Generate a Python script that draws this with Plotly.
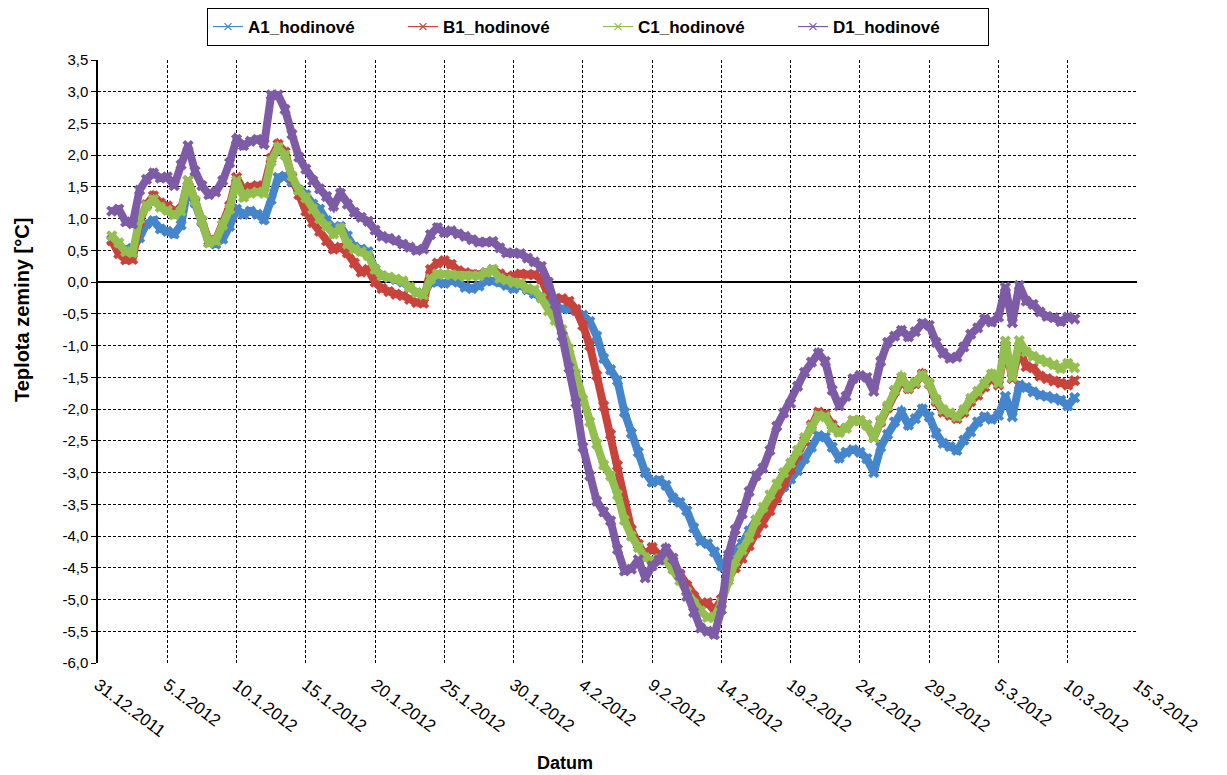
import numpy as np
import pandas as pd
import plotly.graph_objects as go

# Half-day sampling from 1.1.2012 00:00 to 10.3.2012 12:00
time = pd.date_range("2012-01-01 00:00", periods=140, freq="12h")

a1 = [
    0.67, 0.56, 0.52, 0.53, 0.70, 0.92, 0.97, 0.84, 0.80, 0.76,
    0.90, 1.50, 1.25, 0.95, 0.62, 0.60, 0.68, 0.88, 1.15, 1.07,
    1.12, 1.07, 0.99, 1.30, 1.65, 1.67, 1.58, 1.45, 1.38, 1.23,
    1.15, 0.97, 0.85, 0.88, 0.73, 0.55, 0.52, 0.48, 0.20, 0.10,
    0.07, 0.04, 0.00, -0.08, -0.17, -0.20, 0.00, 0.00, -0.02, 0.02,
    0.00, -0.08, -0.10, -0.06, 0.02, 0.02, 0.00, -0.05, -0.10, -0.05,
    -0.12, -0.18, -0.22, -0.30, -0.38, -0.42, -0.42, -0.45, -0.52, -0.62,
    -0.85, -1.20, -1.38, -1.55, -2.05, -2.38, -2.68, -3.00, -3.15, -3.12,
    -3.20, -3.40, -3.47, -3.60, -3.87, -4.08, -4.12, -4.25, -4.47, -4.35,
    -4.20, -4.12, -3.92, -3.75, -3.65, -3.50, -3.35, -3.22, -3.10, -2.97,
    -2.78, -2.60, -2.42, -2.44, -2.60, -2.77, -2.68, -2.64, -2.68, -2.78,
    -3.00, -2.60, -2.40, -2.20, -2.05, -2.25, -2.15, -2.00, -2.12, -2.38,
    -2.54, -2.59, -2.65, -2.49, -2.36, -2.20, -2.12, -2.16, -2.10, -1.80,
    -2.12, -1.62, -1.66, -1.73, -1.78, -1.80, -1.83, -1.86, -1.95, -1.82,
]

b1 = [
    0.65, 0.45, 0.35, 0.36, 0.95, 1.22, 1.36, 1.25, 1.20, 1.12,
    1.15, 1.60, 1.28, 0.97, 0.65, 0.66, 0.90, 1.20, 1.65, 1.45,
    1.50, 1.52, 1.50, 1.95, 2.17, 2.05, 1.65, 1.38, 1.12, 0.94,
    0.80, 0.65, 0.52, 0.55, 0.46, 0.30, 0.16, 0.20, 0.00, -0.10,
    -0.15, -0.19, -0.21, -0.27, -0.32, -0.33, 0.20, 0.30, 0.34, 0.28,
    0.18, 0.15, 0.12, 0.12, 0.15, 0.20, 0.13, 0.08, 0.10, 0.13,
    0.12, 0.12, 0.05, -0.20, -0.26, -0.26, -0.30, -0.43, -0.68, -1.00,
    -1.47, -1.95, -2.40, -2.89, -3.50, -3.90, -4.13, -4.30, -4.18, -4.30,
    -4.30, -4.40, -4.60, -4.78, -4.95, -5.08, -5.05, -5.18, -5.00, -4.65,
    -4.50, -4.35, -4.15, -3.95, -3.80, -3.60, -3.40, -3.15, -2.95, -2.72,
    -2.50, -2.25, -2.05, -2.08, -2.25, -2.35, -2.30, -2.18, -2.18, -2.25,
    -2.45, -2.20, -1.98, -1.72, -1.55, -1.68, -1.60, -1.45, -1.60, -1.88,
    -2.05, -2.10, -2.15, -2.05, -1.88, -1.78, -1.65, -1.50, -1.62, -1.00,
    -1.52, -1.05, -1.33, -1.35, -1.48, -1.52, -1.56, -1.59, -1.62, -1.55,
]

c1 = [
    0.73, 0.62, 0.48, 0.46, 1.00, 1.20, 1.30, 1.18, 1.13, 1.06,
    1.12, 1.60, 1.28, 0.97, 0.62, 0.65, 0.90, 1.15, 1.60, 1.34,
    1.40, 1.42, 1.40, 1.90, 2.12, 2.00, 1.67, 1.45, 1.33, 1.15,
    1.00, 0.88, 0.76, 0.85, 0.60, 0.52, 0.48, 0.42, 0.20, 0.10,
    0.08, 0.05, 0.02, -0.08, -0.17, -0.20, 0.05, 0.13, 0.12, 0.12,
    0.10, 0.09, 0.10, 0.10, 0.15, 0.20, 0.06, 0.03, -0.01, -0.02,
    -0.10, -0.12, -0.25, -0.45, -0.60, -0.75, -1.05, -1.45, -1.85, -2.20,
    -2.55, -2.88, -3.05, -3.35, -3.75, -4.00, -4.18, -4.34, -4.39, -4.36,
    -4.38, -4.52, -4.70, -4.88, -5.06, -5.18, -5.28, -5.28, -5.05, -4.70,
    -4.40, -4.22, -4.02, -3.75, -3.55, -3.35, -3.18, -3.00, -2.85, -2.65,
    -2.45, -2.28, -2.10, -2.12, -2.30, -2.37, -2.30, -2.18, -2.18, -2.25,
    -2.45, -2.18, -1.95, -1.70, -1.50, -1.66, -1.58, -1.47, -1.59, -1.85,
    -2.01, -2.06, -2.12, -2.01, -1.83, -1.72, -1.60, -1.45, -1.59, -0.93,
    -1.50, -0.92, -1.10, -1.17, -1.22, -1.26, -1.30, -1.36, -1.28, -1.35,
]

d1 = [
    1.12, 1.15, 0.95, 0.92, 1.45, 1.62, 1.72, 1.64, 1.66, 1.52,
    1.85, 2.15, 1.75, 1.52, 1.38, 1.42, 1.60, 1.88, 2.25, 2.15,
    2.22, 2.25, 2.18, 2.95, 2.95, 2.72, 2.33, 1.97, 1.78, 1.60,
    1.47, 1.35, 1.20, 1.40, 1.23, 1.10, 1.02, 0.96, 0.82, 0.72,
    0.69, 0.66, 0.60, 0.55, 0.50, 0.52, 0.75, 0.86, 0.78, 0.81,
    0.76, 0.72, 0.67, 0.63, 0.63, 0.64, 0.54, 0.46, 0.46, 0.45,
    0.38, 0.32, 0.25, 0.00, -0.35, -0.85, -1.35, -1.90, -2.60, -3.05,
    -3.45, -3.62, -3.76, -4.21, -4.55, -4.52, -4.37, -4.66, -4.47, -4.38,
    -4.20, -4.35, -4.62, -4.95, -5.20, -5.45, -5.50, -5.55, -5.16, -4.30,
    -3.90, -3.65, -3.30, -3.05, -2.93, -2.65, -2.27, -2.06, -1.91, -1.64,
    -1.42, -1.26, -1.12, -1.25, -1.70, -1.95, -1.80, -1.52, -1.47, -1.50,
    -1.72, -1.25, -0.95, -0.85, -0.76, -0.86, -0.78, -0.65, -0.68, -0.95,
    -1.12, -1.20, -1.18, -1.02, -0.82, -0.72, -0.58, -0.63, -0.55, -0.08,
    -0.64, -0.05, -0.30, -0.35, -0.47, -0.54, -0.56, -0.62, -0.55, -0.58,
]

series_names = ["A1_hodinové", "B1_hodinové", "C1_hodinové", "D1_hodinové"]
series_values = [a1, b1, c1, d1]
colors = ["#4585cc", "#c8433c", "#93bf4f", "#7d5ba6"]

x_tick_dates = [
    "2011-12-31", "2012-01-05", "2012-01-10", "2012-01-15", "2012-01-20",
    "2012-01-25", "2012-01-30", "2012-02-04", "2012-02-09", "2012-02-14",
    "2012-02-19", "2012-02-24", "2012-02-29", "2012-03-05", "2012-03-10",
    "2012-03-15",
]
x_tick_labels = [
    "31.12.2011", "5.1.2012", "10.1.2012", "15.1.2012", "20.1.2012",
    "25.1.2012", "30.1.2012", "4.2.2012", "9.2.2012", "14.2.2012",
    "19.2.2012", "24.2.2012", "29.2.2012", "5.3.2012", "10.3.2012",
    "15.3.2012",
]
y_ticks = np.round(np.arange(-6.0, 3.51, 0.5), 1)
y_tick_labels = [f"{v:.1f}".replace(".", ",") for v in y_ticks]

FONT = "Liberation Sans, Arial, sans-serif"
W, H = 1227, 775
ML, MR, MT, MB = 98, 90, 60, 112
PW, PH = W - ML - MR, H - MT - MB

fig = go.Figure()

for name, vals, col in zip(series_names, series_values, colors):
    fig.add_trace(go.Scatter(
        x=time, y=vals, mode="lines+markers", name=name, showlegend=False,
        line=dict(color=col, width=8),
        marker=dict(symbol="x", size=10, color=col, line=dict(width=0)),
    ))

# legend entries: thin line with a cross, as drawn in the key
for name, col in zip(series_names, colors):
    fig.add_trace(go.Scatter(
        x=[None], y=[None], mode="lines+markers", name=name,
        line=dict(color=col, width=1.2),
        marker=dict(symbol="x-thin", size=7, color=col, line=dict(width=1.2, color=col)),
    ))

fig.update_layout(
    width=W, height=H,
    margin=dict(l=ML, r=MR, t=MT, b=MB, autoexpand=False),
    paper_bgcolor="white", plot_bgcolor="white",
    font=dict(family=FONT, size=13, color="black"),
    legend=dict(
        orientation="h", xref="container", yref="container",
        x=598 / W, xanchor="center", y=1 - 8 / H, yanchor="top",
        bordercolor="black", borderwidth=1, bgcolor="white",
        font=dict(family=FONT, size=17, color="black", weight="bold"),
        entrywidth=150, entrywidthmode="pixels", itemwidth=30,
        tracegroupgap=0,
    ),
    annotations=[
        dict(text="<b>Datum</b>", x=(565 - ML) / PW, y=(H - MB - 763) / PH,
             xref="paper", yref="paper", xanchor="center", yanchor="middle",
             showarrow=False, font=dict(size=18)),
        dict(text="<b>Teplota zeminy [°C]</b>", textangle=-90,
             x=(22 - ML) / PW, y=(H - MB - 310) / PH,
             xref="paper", yref="paper", xanchor="center", yanchor="middle",
             showarrow=False, font=dict(size=20)),
    ],
)

fig.update_xaxes(
    range=["2011-12-31", "2012-03-15"],
    tickmode="array", tickvals=x_tick_dates, ticktext=x_tick_labels,
    tickangle=37, tickfont=dict(size=17), ticklabelstandoff=8,
    showgrid=True, gridcolor="black", gridwidth=1, griddash="3px,2px",
    showline=False, zeroline=False, ticks="",
)
fig.update_yaxes(
    range=[-6.0, 3.5],
    tickmode="array", tickvals=y_ticks, ticktext=y_tick_labels,
    tickfont=dict(size=15),
    showgrid=True, gridcolor="black", gridwidth=1, griddash="3px,2px",
    zeroline=True, zerolinecolor="black", zerolinewidth=1.5,
    showline=True, linecolor="black", linewidth=1.5,
    ticks="outside", ticklen=5, tickcolor="black",
)

fig.write_html("out.html")
